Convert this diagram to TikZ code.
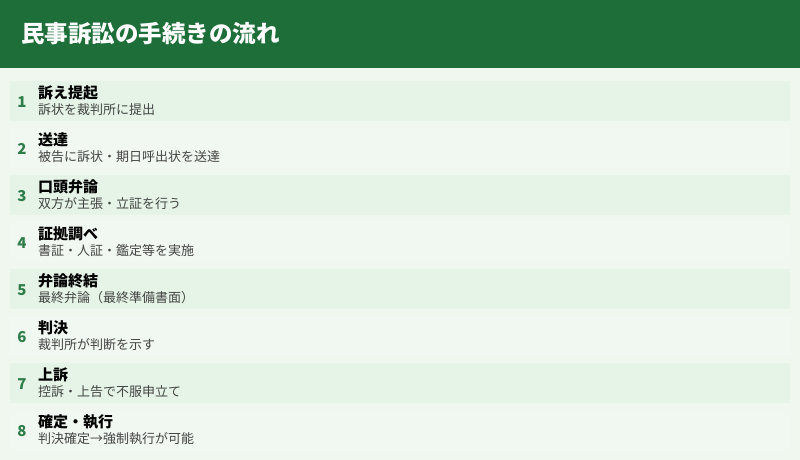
\documentclass[tikz,border=0pt]{standalone}
\usepackage{fontspec}
\setmainfont{Noto Sans CJK JP}
\usetikzlibrary{positioning}
\definecolor{HeadClr}{RGB}{30,110,58}
\definecolor{BackClr}{RGB}{239,247,239}
\definecolor{BandClr}{RGB}{229,244,230}
\definecolor{RowClr}{RGB}{241,248,241}
\definecolor{NumClr}{RGB}{46,125,74}
\definecolor{SubClr}{RGB}{68,68,68}

\begin{document}
\begin{tikzpicture}[x=1pt,y=-1pt,
  headtext/.style={anchor=west,inner sep=0pt,text=white,font=\fontsize{23.5}{24}\selectfont\bfseries},
  stepnum/.style={inner sep=0pt,text=NumClr,font=\fontsize{15}{15}\selectfont\bfseries},
  steptitle/.style={anchor=west,inner sep=0pt,text=black,font=\fontsize{15}{15}\selectfont\bfseries},
  stepsub/.style={anchor=west,inner sep=0pt,text=SubClr,font=\fontsize{13}{13}\selectfont}]
\useasboundingbox (0,0) rectangle (800,460);
\fill[BackClr] (0,0) rectangle (800,460);
\fill[HeadClr] (0,0) rectangle (800,68);

\node[headtext] (heading) at (21,34) {民事訴訟の手続きの流れ};

% steps of the procedure
\foreach \i/\t/\s in {1/訴え提起/訴状を裁判所に提出,
                      2/送達/被告に訴状・期日呼出状を送達,
                      3/口頭弁論/双方が主張・立証を行う,
                      4/証拠調べ/書証・人証・鑑定等を実施,
                      5/弁論終結/最終弁論（最終準備書面）,
                      6/判決/裁判所が判断を示す,
                      7/上訴/控訴・上告で不服申立て,
                      8/確定・執行/判決確定→強制執行が可能}{
  \pgfmathsetmacro\yc{101+47*(\i-1)}
  \ifodd\i\relax
    \fill[BandClr] (10,\yc-20) rectangle (790,\yc+20);
  \else
    \fill[RowClr] (10,\yc-20) rectangle (790,\yc+20);
  \fi
  \node[stepnum] (num\i) at (22,\yc+1) {\i};
  \node[steptitle] (head\i) at (38,\yc-8) {\t};
  \node[stepsub] (desc\i) at (38,\yc+9) {\s};
}
\end{tikzpicture}
\end{document}
